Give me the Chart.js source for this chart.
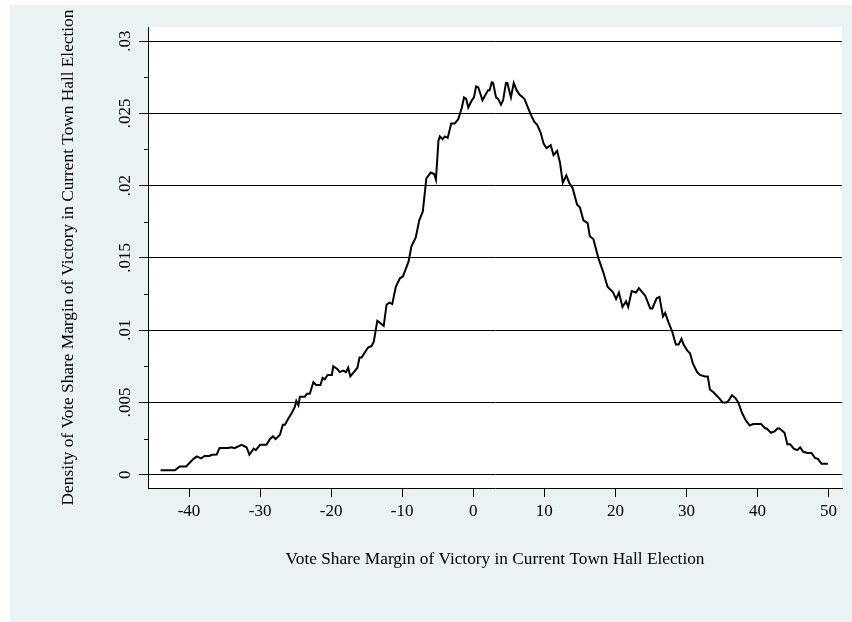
<!DOCTYPE html>
<html>
<head>
<meta charset="utf-8">
<title>Density of vote share margin</title>
<script src="https://cdn.jsdelivr.net/npm/chart.js@4.4.1/dist/chart.umd.min.js"></script>
<style>
    html, body { margin: 0; padding: 0; background: #ffffff; }
    #densityChart { display: block; }
</style>
</head>
<body>
<canvas id="densityChart" width="852" height="622"></canvas>
<script>
// Margin of victory (x) and estimated density (y)
const margins = [
    -44.0, -42.0, -41.3, -40.4, -39.4, -38.9, -38.3, -37.8, -37.1, -36.8,
    -36.1, -35.7, -34.5, -34.0, -33.6, -32.6, -31.9, -31.5, -30.9, -30.6,
    -30.0, -29.1, -28.6, -28.2, -27.8, -27.2, -26.8, -26.5, -26.0, -25.5,
    -25.1, -24.9, -24.6, -24.4, -23.7, -23.4, -23.0, -22.5, -22.1, -21.5,
    -21.2, -20.9, -20.5, -19.9, -19.7, -19.1, -18.8, -18.3, -17.9, -17.6,
    -17.3, -16.8, -16.3, -16.0, -15.7, -15.2, -14.8, -14.3, -14.0, -13.5,
    -13.1, -12.6, -12.2, -11.8, -11.4, -10.9, -10.3, -9.9, -9.1, -8.7,
    -8.1, -7.6, -7.1, -6.6, -6.0, -5.5, -5.25, -4.9, -4.7, -4.3,
    -4.0, -3.6, -3.1, -2.6, -2.1, -1.6, -1.3, -1.0, -0.7, -0.2,
    0.1, 0.4, 0.7, 1.3, 1.8, 2.1, 2.3, 2.6, 2.8, 3.2,
    3.5, 3.9, 4.2, 4.6, 4.8, 5.3, 5.7, 6.1, 6.5, 7.2,
    7.7, 8.2, 8.6, 9.0, 9.5, 9.9, 10.3, 10.9, 11.3, 11.8,
    12.2, 12.6, 13.1, 13.5, 14.0, 14.6, 15.0, 15.5, 16.1, 16.4,
    16.9, 17.6, 18.3, 18.9, 19.7, 20.1, 20.5, 21.0, 21.5, 21.8,
    22.3, 22.9, 23.3, 24.2, 24.9, 25.2, 25.8, 26.2, 26.7, 27.0,
    27.5, 28.0, 28.5, 28.9, 29.3, 29.6, 30.1, 30.5, 30.9, 31.5,
    31.9, 32.6, 33.0, 33.3, 33.8, 34.2, 34.6, 35.1, 35.6, 35.9,
    36.4, 36.9, 37.3, 37.8, 38.3, 38.9, 39.4, 40.5, 41.1, 41.3,
    41.9, 42.4, 42.8, 43.1, 43.8, 44.2, 44.6, 45.1, 45.6, 46.0,
    46.4, 47.0, 47.6, 48.1, 48.5, 49.0, 49.9
];
const density = [
    0.0003, 0.0003, 0.00057, 0.00057, 0.00108, 0.00127, 0.00113, 0.0013, 0.0013, 0.00138,
    0.0014, 0.00185, 0.00185, 0.0019, 0.00183, 0.00207, 0.0019, 0.00138, 0.0018, 0.0017,
    0.00207, 0.00207, 0.00247, 0.00265, 0.00247, 0.00277, 0.00346, 0.00346, 0.0039, 0.0043,
    0.0047, 0.0051, 0.0048, 0.0054, 0.0054, 0.0056, 0.0056, 0.0064, 0.0062, 0.0062,
    0.0067, 0.0066, 0.0069, 0.0069, 0.0075, 0.0073, 0.0071, 0.0072, 0.0071, 0.0074,
    0.0068, 0.0071, 0.0074, 0.0081, 0.0081, 0.0085, 0.0088, 0.0089, 0.0092, 0.01065,
    0.0105, 0.0103, 0.01176, 0.0119, 0.0118, 0.0130, 0.0136, 0.0137, 0.01475, 0.0158,
    0.0164, 0.0176, 0.0182, 0.0205, 0.0209, 0.0208, 0.0204, 0.0231, 0.0234, 0.0232,
    0.0234, 0.0233, 0.0243, 0.0243, 0.0246, 0.0254, 0.0261, 0.0260, 0.0254, 0.0259,
    0.0261, 0.02686, 0.0268, 0.0259, 0.02635, 0.0266, 0.0266, 0.02714, 0.0271, 0.0261,
    0.0260, 0.0256, 0.0259, 0.0271, 0.0271, 0.0261, 0.0271, 0.0266, 0.0263, 0.0260,
    0.0254, 0.0248, 0.0244, 0.0242, 0.02364, 0.0229, 0.0226, 0.0228, 0.0221, 0.0224,
    0.0216, 0.0202, 0.0207, 0.0202, 0.0198, 0.0187, 0.0185, 0.0176, 0.0174, 0.0165,
    0.0163, 0.0150, 0.0140, 0.0130, 0.0126, 0.01215, 0.0126, 0.0116, 0.0120, 0.0116,
    0.0127, 0.0126, 0.0129, 0.01238, 0.0115, 0.0115, 0.0122, 0.0123, 0.01095, 0.0112,
    0.0105, 0.0099, 0.0090, 0.0090, 0.0094, 0.0090, 0.0086, 0.0084, 0.0077, 0.0071,
    0.0069, 0.0068, 0.0068, 0.0059, 0.0057, 0.0055, 0.0053, 0.0050, 0.0050, 0.0051,
    0.0055, 0.0053, 0.0050, 0.0043, 0.0038, 0.0034, 0.0035, 0.0035, 0.0032, 0.0032,
    0.0029, 0.0030, 0.0032, 0.0032, 0.0029, 0.0021, 0.0021, 0.0018, 0.0017, 0.0019,
    0.0016, 0.0015, 0.0015, 0.00115, 0.0011, 0.00076, 0.00076
];

// Axis ticks
const xTicks = [-40, -30, -20, -10, 0, 10, 20, 30, 40, 50];
const yTicks = [0, 0.0025, 0.005, 0.0075, 0.01, 0.0125, 0.015, 0.0175, 0.02, 0.0225, 0.025, 0.0275, 0.03];
const yTickLabels = ['0', '', '.005', '', '.01', '', '.015', '', '.02', '', '.025', '', '.03'];

const xTitle = 'Vote Share Margin of Victory in Current Town Hall Election';
const yTitle = 'Density of Vote Share Margin of Victory in Current Town Hall Election';

const BG = '#eaf2f3';
const FONT = 'Liberation Serif, Times New Roman, serif';

const isMajor = (i) => i % 2 === 0;

// Outer grey-blue region with a white plot region, Stata style
const backgroundPlugin = {
    id: 'stataBackground',
    beforeDraw: (chart) => {
        const { ctx, chartArea: a } = chart;
        ctx.save();
        ctx.fillStyle = '#ffffff';
        ctx.fillRect(0, 0, chart.width, chart.height);
        ctx.fillStyle = BG;
        ctx.fillRect(10, 5, chart.width - 10, chart.height - 5);
        ctx.fillStyle = '#ffffff';
        ctx.fillRect(a.left, a.top, a.right - a.left, a.bottom - a.top);
        ctx.restore();
    },
    // short minor ticks on the y axis
    afterDraw: (chart) => {
        const { ctx, chartArea: a } = chart;
        const y = chart.scales.y;
        ctx.save();
        ctx.strokeStyle = '#000';
        ctx.lineWidth = 1;
        yTicks.forEach((v, i) => {
            if (isMajor(i)) return;
            const py = Math.round(y.getPixelForValue(v)) + 0.5;
            ctx.beginPath();
            ctx.moveTo(a.left - 4, py);
            ctx.lineTo(a.left, py);
            ctx.stroke();
        });
        ctx.restore();
    },
};

const ctx = document.getElementById('densityChart').getContext('2d');

new Chart(ctx, {
    type: 'scatter',
    data: {
        datasets: [{
            data: margins.map((m, i) => ({ x: m, y: density[i] })),
            showLine: true,
            borderColor: '#000',
            borderWidth: 2,
            pointRadius: 0,
            tension: 0,
            fill: false,
        }],
    },
    options: {
        responsive: false,
        animation: false,
        devicePixelRatio: 1,
        layout: { padding: { left: 0, top: 27, right: 10, bottom: 0 } },
        plugins: {
            legend: { display: false },
            tooltip: { enabled: false },
        },
        scales: {
            x: {
                type: 'linear',
                min: -45.77,
                max: 51.89,
                afterBuildTicks: (s) => { s.ticks = xTicks.map((v) => ({ value: v })); },
                afterFit: (s) => { s.height = 134; },
                grid: {
                    drawOnChartArea: false,
                    drawTicks: true,
                    tickLength: 9,
                    tickColor: '#000',
                },
                border: { display: true, color: '#000', width: 1 },
                ticks: {
                    color: '#000',
                    padding: 4,
                    maxRotation: 0,
                    autoSkip: false,
                    font: { family: FONT, size: 17 },
                    callback: (v) => String(v),
                },
                title: {
                    display: true,
                    text: xTitle,
                    color: '#000',
                    font: { family: FONT, size: 17.3 },
                    padding: { top: 0, bottom: 52 },
                },
            },
            y: {
                type: 'linear',
                min: -0.00092,
                max: 0.03097,
                afterBuildTicks: (s) => { s.ticks = yTicks.map((v) => ({ value: v })); },
                afterFit: (s) => { s.width = 148; },
                grid: {
                    drawTicks: true,
                    tickLength: 9,
                    color: (c) => (isMajor(c.index) ? '#000' : 'rgba(0,0,0,0)'),
                    tickColor: (c) => (isMajor(c.index) ? '#000' : 'rgba(0,0,0,0)'),
                },
                border: { display: true, color: '#000', width: 1 },
                ticks: {
                    color: '#000',
                    padding: -1,
                    minRotation: 90,
                    maxRotation: 90,
                    crossAlign: 'center',
                    autoSkip: false,
                    font: { family: FONT, size: 17 },
                    callback: (v, i) => yTickLabels[i],
                },
                title: {
                    display: true,
                    text: yTitle,
                    color: '#000',
                    font: { family: FONT, size: 17.3 },
                    padding: { top: 58, bottom: 0 },
                },
            },
        },
    },
    plugins: [backgroundPlugin],
});
</script>
</body>
</html>
